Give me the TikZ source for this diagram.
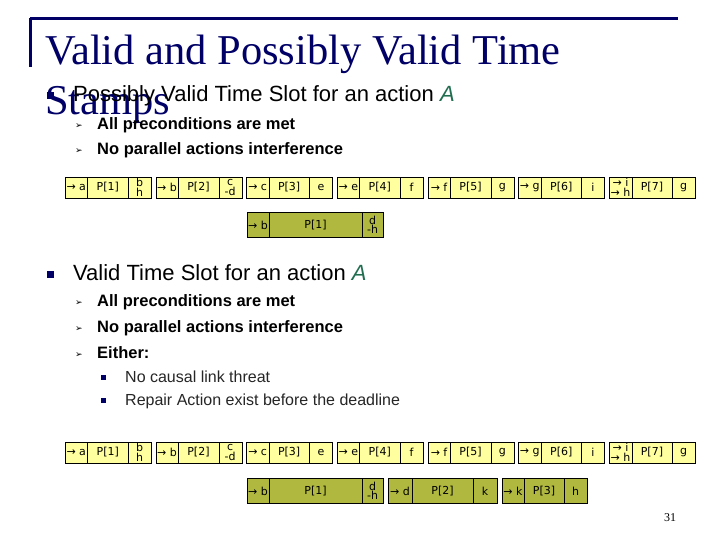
\documentclass[tikz,border=0pt]{standalone}
\usepackage{fontspec}
\setmainfont{Liberation Sans}
\newfontfamily\titlefont{Liberation Serif}
\newfontfamily\boxfont{DejaVu Sans}
\usepackage{tikz}
\usetikzlibrary{positioning}
\definecolor{navy}{RGB}{0,0,102}
\definecolor{slotyellow}{RGB}{255,255,160}
\definecolor{repairgreen}{RGB}{176,184,64}
\definecolor{actgreen}{RGB}{34,110,80}
\tikzstyle{heading}=[anchor=base west, inner sep=0pt, text=navy, font=\titlefont\fontsize{42.5}{42.5}\selectfont]
\tikzstyle{lvlone}=[anchor=base west, inner sep=0pt, font=\fontsize{22}{22}\selectfont]
\tikzstyle{lvltwo}=[anchor=base west, inner sep=0pt, font=\bfseries\fontsize{16.5}{16.5}\selectfont]
\tikzstyle{lvlthree}=[anchor=base west, inner sep=0pt, text=black!85, font=\fontsize{16}{16}\selectfont]
\tikzset{sqbullet/.style={fill=navy, inner sep=0pt, minimum size=7pt}}
\tikzset{arrbullet/.style={anchor=base west, inner sep=0pt, font=\boxfont\fontsize{9}{9}\selectfont}}
\tikzset{slot/.style={draw, fill=slotyellow, anchor=west, inner sep=0pt, outer sep=0pt, minimum height=21pt, align=center, font=\boxfont\fontsize{11}{9.5}\selectfont}}
\tikzset{repair/.style={slot, fill=repairgreen, minimum height=25pt}}

\begin{document}
\begin{tikzpicture}[x=1pt,y=-1pt]
  \fill[white] (0,0) rectangle (720,540);
  \useasboundingbox (0,0) rectangle (720,540);
  \coordinate (rulel) at (30,18.3);
  \coordinate (ruler) at (678,18.3);
  \coordinate (barb) at (30.5,67);
  \draw[navy, line width=3pt] (rulel) -- (ruler);
  \draw[navy, line width=2.5pt] ([xshift=0.5pt]rulel) -- (barb);
  \node[heading] (title) at (45,65) {Valid and Possibly Valid Time};
  \node[heading] (titlecont) at (45,115) {Stamps};

  \node[sqbullet] (pvbul) at (50,96) {};
  \node[lvlone] (pvhead) at (73,102) {Possibly Valid Time Slot for an action \textcolor{actgreen}{\itshape A}};
  \node[arrbullet] (pvarr1) at (75,129) {➢};
  \node[lvltwo] (pvpre) at (97,130) {All preconditions are met};
  \node[arrbullet] (pvarr2) at (75,154) {➢};
  \node[lvltwo] (pvpar) at (97,155) {No parallel actions interference};

  \node[sqbullet] (vbul) at (50,274) {};
  \node[lvlone] (vhead) at (73,280) {Valid Time Slot for an action \textcolor{actgreen}{\itshape A}};
  \node[arrbullet] (varr1) at (75,305) {➢};
  \node[lvltwo] (vpre) at (97,306) {All preconditions are met};
  \node[arrbullet] (varr2) at (75,331) {➢};
  \node[lvltwo] (vpar) at (97,332) {No parallel actions interference};
  \node[arrbullet] (varr3) at (75,357) {➢};
  \node[lvltwo] (veither) at (97,358) {Either:};
  \node[sqbullet, minimum size=5pt] (vsub1) at (103,377) {};
  \node[lvlthree] (vthreat) at (125,382) {No causal link threat};
  \node[sqbullet, minimum size=5pt] (vsub2) at (103,400) {};
  \node[lvlthree] (vrepair) at (125,405) {Repair Action exist before the deadline};

  \foreach \r/\y in {u/187.5,l/452.5}
  \foreach \i/\x/\pre/\eff in {1/65/{→ a}/{b\\h},2/155.7/{→ b}/{c\\-d},3/246.4/{→ c}/e,4/337.1/{→ e}/f,5/427.8/{→ f}/g,6/518.5/{→ g}/i,7/609.2/{→ i\\→ h}/g}{
    \node[slot, minimum width=22.5pt] (\r pre\i) at (\x,\y) {\pre};
    \node[slot, minimum width=40.5pt] (\r act\i) at (\r pre\i.east) {P[\i]};
    \node[slot, minimum width=23pt] (\r eff\i) at (\r act\i.east) {\eff};
  }

  \node[repair, minimum width=22pt] (upfix) at (247,225) {→ b};
  \node[repair, minimum width=93pt] (upfixact) at (upfix.east) {P[1]};
  \node[repair, minimum width=21pt] (upfixeff) at (upfixact.east) {d\\-h};

  \node[repair, minimum width=22pt] (lofixa) at (247,491) {→ b};
  \node[repair, minimum width=93pt] (lofixaact) at (lofixa.east) {P[1]};
  \node[repair, minimum width=21pt] (lofixaeff) at (lofixaact.east) {d\\-h};
  \node[repair, minimum width=24pt] (lofixb) at (388,491) {→ d};
  \node[repair, minimum width=61pt] (lofixbact) at (lofixb.east) {P[2]};
  \node[repair, minimum width=24pt] (lofixbeff) at (lofixbact.east) {k};
  \node[repair, minimum width=22pt] (lofixc) at (502,491) {→ k};
  \node[repair, minimum width=40pt] (lofixcact) at (lofixc.east) {P[3]};
  \node[repair, minimum width=23pt] (lofixceff) at (lofixcact.east) {h};

  \node[anchor=base, inner sep=0pt, font=\titlefont\fontsize{12}{12}\selectfont] (pagenum) at (670,521) {31};
\end{tikzpicture}
\end{document}
